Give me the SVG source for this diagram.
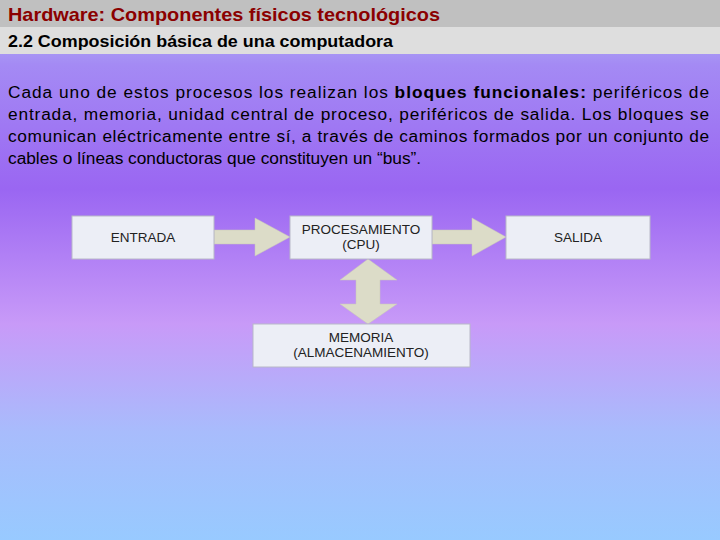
<svg xmlns="http://www.w3.org/2000/svg" width="720" height="540" viewBox="0 0 720 540">
<defs>
<linearGradient id="bg" x1="0" y1="0" x2="0" y2="1">
<stop offset="0" stop-color="#b4c8f6"/>
<stop offset="0.12" stop-color="#a48af4"/>
<stop offset="0.35" stop-color="#9a66f2"/>
<stop offset="0.6" stop-color="#c89af8"/>
<stop offset="0.8" stop-color="#a8bcfc"/>
<stop offset="1" stop-color="#98caff"/>
</linearGradient>
<style>
.box{fill:#eceef6;stroke:#b8b8c8;stroke-width:1}
.lbl{font-family:"Liberation Sans",Arial,sans-serif;font-size:13.5px;fill:#222;text-anchor:middle}
.arr{fill:#dcdcc8;stroke:#c8c8b4;stroke-width:0.5}
.body{font-family:"Liberation Sans",Arial,sans-serif;font-size:17.3px;fill:#000}
</style>
</defs>
<rect width="720" height="540" fill="url(#bg)"/>
<rect width="720" height="27" fill="#c0c0c0"/>
<rect y="27" width="720" height="27" fill="#dedede"/>
<text x="8" y="21" font-family="Liberation Sans,Arial,sans-serif" font-size="19" font-weight="bold" fill="#8b0000" textLength="432" lengthAdjust="spacingAndGlyphs">Hardware: Componentes físicos tecnológicos</text>
<text x="8" y="47" font-family="Liberation Sans,Arial,sans-serif" font-size="16.5" font-weight="bold" fill="#000" textLength="385" lengthAdjust="spacingAndGlyphs">2.2 Composición básica de una computadora</text>
<text class="body" textLength="701" lengthAdjust="spacing" x="8" y="98">Cada uno de estos procesos los realizan los <tspan font-weight="bold">bloques funcionales:</tspan> periféricos de</text>
<text class="body" textLength="701" lengthAdjust="spacing" x="8" y="120">entrada, memoria, unidad central de proceso, periféricos de salida. Los bloques se</text>
<text class="body" textLength="701" lengthAdjust="spacing" x="8" y="142">comunican eléctricamente entre sí, a través de caminos formados por un conjunto de</text>
<text class="body" x="8" y="164">cables o líneas conductoras que constituyen un “bus”.</text>
<g id="connectors">
<polygon class="arr" points="214,230 255,230 255,218 290,237 255,256 255,244 214,244"/>
<polygon class="arr" points="432,230 472,230 472,218 506,237 472,256 472,244 432,244"/>
<polygon class="arr" points="368,259 397,280 380,280 380,304 397,304 368,324 340,304 356,304 356,280 340,280"/>
</g>
<g id="entrada"><rect class="box" x="72" y="216" width="142" height="43"/><text class="lbl" x="143" y="242">ENTRADA</text></g>
<g id="cpu"><rect class="box" x="290" y="216" width="142" height="43"/><text class="lbl" x="361" y="234">PROCESAMIENTO</text><text class="lbl" x="361" y="249">(CPU)</text></g>
<g id="salida"><rect class="box" x="506" y="216" width="144" height="43"/><text class="lbl" x="578" y="242">SALIDA</text></g>
<g id="memoria"><rect class="box" x="253" y="324" width="217" height="43"/><text class="lbl" x="361" y="342">MEMORIA</text><text class="lbl" x="361" y="357">(ALMACENAMIENTO)</text></g>
</svg>
